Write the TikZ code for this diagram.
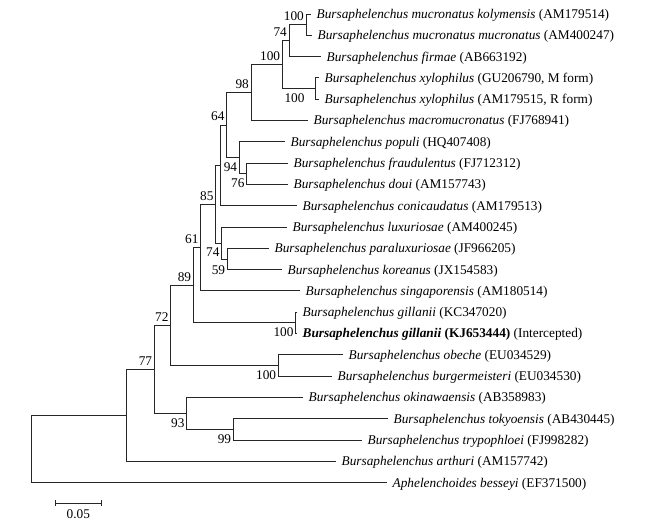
\documentclass[tikz,border=0pt]{standalone}
\usepackage{fontspec}
\setmainfont{Liberation Serif}
\begin{document}
\begin{tikzpicture}[x=1pt,y=-1pt,
  br/.style={line width=0.9pt, draw=black!85},
  leaf/.style={anchor=west, inner xsep=5.5pt, inner ysep=0pt, text height=8.8pt, text depth=0pt, font=\fontsize{13.3}{16}\selectfont},
  bsup/.style={anchor=south east, inner sep=0pt, text height=9pt, text depth=0pt, xshift=-2pt, yshift=4pt, font=\fontsize{13.3}{16}\selectfont},
  bsdn/.style={anchor=north east, inner sep=0pt, text height=9pt, text depth=0pt, xshift=-2pt, yshift=-4.5pt, font=\fontsize{13.3}{16}\selectfont},
  sclab/.style={inner sep=0pt, font=\fontsize{13.3}{16}\selectfont}
]
\useasboundingbox (0,0) rectangle (657,525);

% internal nodes
\coordinate (root) at (31.7,448.96);
\coordinate (nA) at (126,415.33);
\coordinate (n77) at (154.3,369.35);
\coordinate (n72) at (170.7,325.33);
\coordinate (n89) at (193.3,285.2);
\coordinate (n61) at (200.7,247.55);
\coordinate (n85) at (215.7,204.2);
\coordinate (nB) at (220,165.43);
\coordinate (n64) at (226.7,125.16);
\coordinate (n98) at (251,92.54);
\coordinate (n100a) at (282.3,64.59);
\coordinate (n74a) at (289,40.625);
\coordinate (n100b) at (306,24.65);
\coordinate (n100c) at (315.7,88.55);
\coordinate (n94) at (239.3,157.78);
\coordinate (n76) at (246.7,173.75);
\coordinate (n74b) at (221.7,242.98);
\coordinate (n59) at (227.3,258.95);
\coordinate (n100d) at (295.7,322.85);
\coordinate (n100e) at (278.3,365.45);
\coordinate (n93) at (186.7,413.38);
\coordinate (n99) at (233.3,429.35);

% leaves
\node[leaf] (l1) at (311,14) {\textit{Bursaphelenchus mucronatus kolymensis} (AM179514)};
\node[leaf] (l2) at (312,35.3) {\textit{Bursaphelenchus mucronatus mucronatus} (AM400247)};
\node[leaf] (l3) at (321,56.6) {\textit{Bursaphelenchus firmae} (AB663192)};
\node[leaf] (l4) at (319,77.9) {\textit{Bursaphelenchus xylophilus} (GU206790, M form)};
\node[leaf] (l5) at (319,99.2) {\textit{Bursaphelenchus xylophilus} (AM179515, R form)};
\node[leaf] (l6) at (308,120.5) {\textit{Bursaphelenchus macromucronatus} (FJ768941)};
\node[leaf] (l7) at (285,141.8) {\textit{Bursaphelenchus populi} (HQ407408)};
\node[leaf] (l8) at (288,163.1) {\textit{Bursaphelenchus fraudulentus} (FJ712312)};
\node[leaf] (l9) at (288,184.4) {\textit{Bursaphelenchus doui} (AM157743)};
\node[leaf] (l10) at (297,205.7) {\textit{Bursaphelenchus conicaudatus} (AM179513)};
\node[leaf] (l11) at (287,227) {\textit{Bursaphelenchus luxuriosae} (AM400245)};
\node[leaf] (l12) at (269,248.3) {\textit{Bursaphelenchus paraluxuriosae} (JF966205)};
\node[leaf] (l13) at (282,269.6) {\textit{Bursaphelenchus koreanus} (JX154583)};
\node[leaf] (l14) at (300,290.9) {\textit{Bursaphelenchus singaporensis} (AM180514)};
\node[leaf] (l15) at (297,312.2) {\textit{Bursaphelenchus gillanii} (KC347020)};
\node[leaf] (l16) at (297,333.5) {\textbf{\textit{Bursaphelenchus gillanii} (KJ653444)} (Intercepted)};
\node[leaf] (l17) at (343,354.8) {\textit{Bursaphelenchus obeche} (EU034529)};
\node[leaf] (l18) at (332,376.1) {\textit{Bursaphelenchus burgermeisteri} (EU034530)};
\node[leaf] (l19) at (303,397.4) {\textit{Bursaphelenchus okinawaensis} (AB358983)};
\node[leaf] (l20) at (388,418.7) {\textit{Bursaphelenchus tokyoensis} (AB430445)};
\node[leaf] (l21) at (362,440) {\textit{Bursaphelenchus trypophloei} (FJ998282)};
\node[leaf] (l22) at (336,461.3) {\textit{Bursaphelenchus arthuri} (AM157742)};
\node[leaf] (l23) at (387,482.6) {\textit{Aphelenchoides besseyi} (EF371500)};

% branches
\foreach \p/\c in {root/nA, root/l23.west, nA/n77, nA/l22.west, n77/n72, n77/n93,
  n72/n89, n72/n100e, n89/n61, n89/n100d, n61/n85, n61/l14.west, n85/nB, n85/n74b,
  nB/n64, nB/l10.west, n64/n98, n64/n94, n98/n100a, n98/l6.west, n100a/n74a, n100a/n100c,
  n74a/n100b, n74a/l3.west, n100b/l1.west, n100b/l2.west, n100c/l4.west, n100c/l5.west,
  n94/l7.west, n94/n76, n76/l8.west, n76/l9.west, n74b/l11.west, n74b/n59,
  n59/l12.west, n59/l13.west, n100d/l15.west, n100d/l16.west, n100e/l17.west, n100e/l18.west,
  n93/l19.west, n93/n99, n99/l20.west, n99/l21.west}
  \draw[br] (\p) |- (\c);

% bootstrap values
\node[bsup] (b1) at (n100b) {100};
\node[bsup] (b2) at (n74a) {74};
\node[bsup] (b3) at (n100a) {100};
\node[bsup] (b4) at (n98) {98};
\node[bsup] (b5) at (n64) {64};
\node[bsup] (b6) at (n85) {85};
\node[bsup] (b7) at (n61) {61};
\node[bsup] (b8) at (n89) {89};
\node[bsup] (b9) at (n72) {72};
\node[bsup] (b10) at (n77) {77};
\node[bsdn, xshift=-9pt] (b11) at (n100c) {100};
\node[bsdn] (b12) at (n94) {94};
\node[bsdn] (b13) at (n76) {76};
\node[bsdn] (b14) at (n74b) {74};
\node[bsdn, yshift=-2pt] (b15) at (n59) {59};
\node[bsdn] (b16) at (n100d) {100};
\node[bsdn] (b17) at (n100e) {100};
\node[bsdn] (b18) at (n93) {93};
\node[bsdn] (b19) at (n99) {99};

% scale bar
\coordinate (sb1) at (55,503.3);
\coordinate (sb2) at (101.7,503.3);
\draw[br] (sb1) -- (sb2);
\draw[br] ([yshift=3pt]sb1) -- ([yshift=-3pt]sb1);
\draw[br] ([yshift=3pt]sb2) -- ([yshift=-3pt]sb2);
\node[sclab] (sbl) at (78.3,514) {0.05};
\end{tikzpicture}
\end{document}
